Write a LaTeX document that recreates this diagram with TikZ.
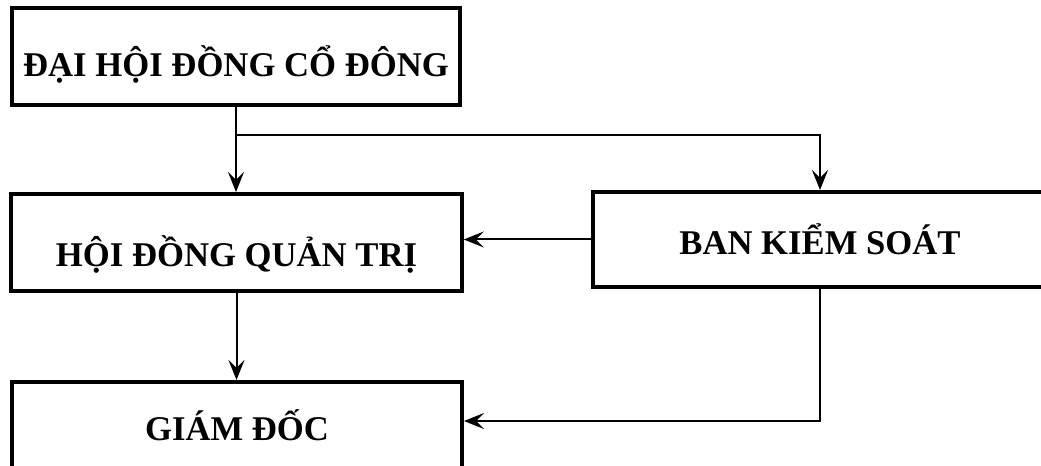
\documentclass[tikz,border=0pt]{standalone}
\usepackage{fontspec}
\setmainfont{Liberation Serif}
\usetikzlibrary{arrows.meta,positioning}

\begin{document}
\begin{tikzpicture}[x=0.75pt, y=-0.75pt,
    box/.style = {draw, line width=3pt, inner sep=0pt, text depth=0pt,
        font=\fontsize{26}{30}\selectfont\bfseries},
    link/.style = {line width=1.5pt,
        -{Stealth[length=15pt, width=12pt, inset=6pt]}}]
\useasboundingbox (0,0) rectangle (1041,466);
\clip (0,0) rectangle (1041,466);
\fill[white] (0,0) rectangle (1041,466);
% boxes
\node[box, text height=30pt, minimum width=336pt, minimum height=72.75pt] (dhcd) at (236,56.5) {ĐẠI HỘI ĐỒNG CỔ ĐÔNG};
\node[box, text height=36pt, minimum width=338pt, minimum height=72.75pt] (hdqt) at (236.5,242.5) {HỘI ĐỒNG QUẢN TRỊ};
\node[box, text height=22pt, minimum width=340.5pt, minimum height=71.25pt] (bks) at (820,239.5) {BAN KIỂM SOÁT};
\node[box, text height=20pt, minimum width=337.5pt, minimum height=67.5pt] (gd) at (237,427) {GIÁM ĐỐC};
% connectors
\coordinate[below=21pt of dhcd.south] (fork);
\draw[link] (dhcd.south) -- (dhcd.south |- hdqt.north);
\draw[link] (fork) -| (bks.north);
\draw[link] (bks.west) -- (bks.west -| hdqt.east);
\draw[link] (hdqt.south) -- (hdqt.south |- gd.north);
\draw[link] (bks.south) |- ([yshift=4.5pt]gd.east);
\end{tikzpicture}
\end{document}
